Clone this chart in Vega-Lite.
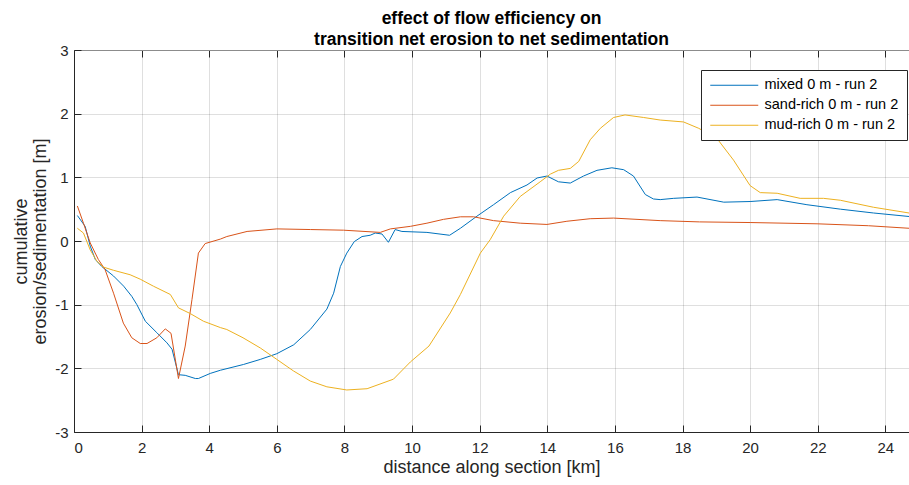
{
  "$schema": "https://vega.github.io/schema/vega-lite/v6.json",
  "width": 835,
  "height": 382,
  "autosize": {"type": "none"},
  "padding": {"left": 74, "top": 50, "right": 0, "bottom": 53},
  "background": "white",
  "title": {
    "text": ["effect of flow efficiency on", "transition net erosion to net sedimentation"],
    "font": "Liberation Sans",
    "fontSize": 17.5,
    "fontWeight": "bold",
    "color": "#000000",
    "anchor": "middle",
    "lineHeight": 21,
    "offset": -5
  },
  "datasets": {
    "profiles": [
      {"x": 0.1, "y": 0.40, "series": "mixed 0 m - run 2"},
      {"x": 0.33, "y": 0.23, "series": "mixed 0 m - run 2"},
      {"x": 0.48, "y": -0.08, "series": "mixed 0 m - run 2"},
      {"x": 0.63, "y": -0.29, "series": "mixed 0 m - run 2"},
      {"x": 0.82, "y": -0.40, "series": "mixed 0 m - run 2"},
      {"x": 1.17, "y": -0.55, "series": "mixed 0 m - run 2"},
      {"x": 1.47, "y": -0.71, "series": "mixed 0 m - run 2"},
      {"x": 1.71, "y": -0.87, "series": "mixed 0 m - run 2"},
      {"x": 1.86, "y": -1.00, "series": "mixed 0 m - run 2"},
      {"x": 2.11, "y": -1.26, "series": "mixed 0 m - run 2"},
      {"x": 2.45, "y": -1.44, "series": "mixed 0 m - run 2"},
      {"x": 2.75, "y": -1.60, "series": "mixed 0 m - run 2"},
      {"x": 2.9, "y": -1.70, "series": "mixed 0 m - run 2"},
      {"x": 3.09, "y": -2.10, "series": "mixed 0 m - run 2"},
      {"x": 3.29, "y": -2.11, "series": "mixed 0 m - run 2"},
      {"x": 3.59, "y": -2.16, "series": "mixed 0 m - run 2"},
      {"x": 3.68, "y": -2.16, "series": "mixed 0 m - run 2"},
      {"x": 4.03, "y": -2.08, "series": "mixed 0 m - run 2"},
      {"x": 4.33, "y": -2.03, "series": "mixed 0 m - run 2"},
      {"x": 5.01, "y": -1.94, "series": "mixed 0 m - run 2"},
      {"x": 5.51, "y": -1.86, "series": "mixed 0 m - run 2"},
      {"x": 6.0, "y": -1.77, "series": "mixed 0 m - run 2"},
      {"x": 6.5, "y": -1.63, "series": "mixed 0 m - run 2"},
      {"x": 6.99, "y": -1.39, "series": "mixed 0 m - run 2"},
      {"x": 7.48, "y": -1.07, "series": "mixed 0 m - run 2"},
      {"x": 7.68, "y": -0.82, "series": "mixed 0 m - run 2"},
      {"x": 7.88, "y": -0.40, "series": "mixed 0 m - run 2"},
      {"x": 8.07, "y": -0.19, "series": "mixed 0 m - run 2"},
      {"x": 8.29, "y": -0.01, "series": "mixed 0 m - run 2"},
      {"x": 8.52, "y": 0.07, "series": "mixed 0 m - run 2"},
      {"x": 8.76, "y": 0.09, "series": "mixed 0 m - run 2"},
      {"x": 8.91, "y": 0.125, "series": "mixed 0 m - run 2"},
      {"x": 9.11, "y": 0.11, "series": "mixed 0 m - run 2"},
      {"x": 9.30, "y": -0.02, "series": "mixed 0 m - run 2"},
      {"x": 9.50, "y": 0.18, "series": "mixed 0 m - run 2"},
      {"x": 9.70, "y": 0.15, "series": "mixed 0 m - run 2"},
      {"x": 10.44, "y": 0.135, "series": "mixed 0 m - run 2"},
      {"x": 11.11, "y": 0.09, "series": "mixed 0 m - run 2"},
      {"x": 11.43, "y": 0.20, "series": "mixed 0 m - run 2"},
      {"x": 11.92, "y": 0.39, "series": "mixed 0 m - run 2"},
      {"x": 12.41, "y": 0.57, "series": "mixed 0 m - run 2"},
      {"x": 12.91, "y": 0.76, "series": "mixed 0 m - run 2"},
      {"x": 13.4, "y": 0.88, "series": "mixed 0 m - run 2"},
      {"x": 13.7, "y": 0.99, "series": "mixed 0 m - run 2"},
      {"x": 13.99, "y": 1.02, "series": "mixed 0 m - run 2"},
      {"x": 14.33, "y": 0.93, "series": "mixed 0 m - run 2"},
      {"x": 14.68, "y": 0.91, "series": "mixed 0 m - run 2"},
      {"x": 15.07, "y": 1.02, "series": "mixed 0 m - run 2"},
      {"x": 15.47, "y": 1.11, "series": "mixed 0 m - run 2"},
      {"x": 15.91, "y": 1.15, "series": "mixed 0 m - run 2"},
      {"x": 16.26, "y": 1.12, "series": "mixed 0 m - run 2"},
      {"x": 16.55, "y": 1.02, "series": "mixed 0 m - run 2"},
      {"x": 16.9, "y": 0.73, "series": "mixed 0 m - run 2"},
      {"x": 17.14, "y": 0.66, "series": "mixed 0 m - run 2"},
      {"x": 17.34, "y": 0.65, "series": "mixed 0 m - run 2"},
      {"x": 17.74, "y": 0.67, "series": "mixed 0 m - run 2"},
      {"x": 18.43, "y": 0.69, "series": "mixed 0 m - run 2"},
      {"x": 19.22, "y": 0.61, "series": "mixed 0 m - run 2"},
      {"x": 20.0, "y": 0.62, "series": "mixed 0 m - run 2"},
      {"x": 20.8, "y": 0.65, "series": "mixed 0 m - run 2"},
      {"x": 21.68, "y": 0.57, "series": "mixed 0 m - run 2"},
      {"x": 22.67, "y": 0.50, "series": "mixed 0 m - run 2"},
      {"x": 23.65, "y": 0.44, "series": "mixed 0 m - run 2"},
      {"x": 24.7, "y": 0.385, "series": "mixed 0 m - run 2"},

      {"x": 0.1, "y": 0.55, "series": "sand-rich 0 m - run 2"},
      {"x": 0.28, "y": 0.28, "series": "sand-rich 0 m - run 2"},
      {"x": 0.48, "y": -0.03, "series": "sand-rich 0 m - run 2"},
      {"x": 0.72, "y": -0.29, "series": "sand-rich 0 m - run 2"},
      {"x": 0.92, "y": -0.45, "series": "sand-rich 0 m - run 2"},
      {"x": 1.17, "y": -0.82, "series": "sand-rich 0 m - run 2"},
      {"x": 1.46, "y": -1.29, "series": "sand-rich 0 m - run 2"},
      {"x": 1.71, "y": -1.52, "series": "sand-rich 0 m - run 2"},
      {"x": 1.96, "y": -1.61, "series": "sand-rich 0 m - run 2"},
      {"x": 2.16, "y": -1.61, "series": "sand-rich 0 m - run 2"},
      {"x": 2.45, "y": -1.52, "series": "sand-rich 0 m - run 2"},
      {"x": 2.7, "y": -1.38, "series": "sand-rich 0 m - run 2"},
      {"x": 2.87, "y": -1.45, "series": "sand-rich 0 m - run 2"},
      {"x": 3.09, "y": -2.16, "series": "sand-rich 0 m - run 2"},
      {"x": 3.29, "y": -1.65, "series": "sand-rich 0 m - run 2"},
      {"x": 3.49, "y": -0.92, "series": "sand-rich 0 m - run 2"},
      {"x": 3.68, "y": -0.19, "series": "sand-rich 0 m - run 2"},
      {"x": 3.88, "y": -0.04, "series": "sand-rich 0 m - run 2"},
      {"x": 4.33, "y": 0.03, "series": "sand-rich 0 m - run 2"},
      {"x": 4.52, "y": 0.07, "series": "sand-rich 0 m - run 2"},
      {"x": 5.12, "y": 0.15, "series": "sand-rich 0 m - run 2"},
      {"x": 6.0, "y": 0.19, "series": "sand-rich 0 m - run 2"},
      {"x": 6.99, "y": 0.18, "series": "sand-rich 0 m - run 2"},
      {"x": 7.97, "y": 0.17, "series": "sand-rich 0 m - run 2"},
      {"x": 9.06, "y": 0.135, "series": "sand-rich 0 m - run 2"},
      {"x": 9.36, "y": 0.19, "series": "sand-rich 0 m - run 2"},
      {"x": 9.95, "y": 0.23, "series": "sand-rich 0 m - run 2"},
      {"x": 10.44, "y": 0.28, "series": "sand-rich 0 m - run 2"},
      {"x": 10.93, "y": 0.34, "series": "sand-rich 0 m - run 2"},
      {"x": 11.43, "y": 0.38, "series": "sand-rich 0 m - run 2"},
      {"x": 11.82, "y": 0.38, "series": "sand-rich 0 m - run 2"},
      {"x": 12.41, "y": 0.32, "series": "sand-rich 0 m - run 2"},
      {"x": 13.2, "y": 0.28, "series": "sand-rich 0 m - run 2"},
      {"x": 13.99, "y": 0.26, "series": "sand-rich 0 m - run 2"},
      {"x": 14.58, "y": 0.31, "series": "sand-rich 0 m - run 2"},
      {"x": 15.27, "y": 0.35, "series": "sand-rich 0 m - run 2"},
      {"x": 15.96, "y": 0.36, "series": "sand-rich 0 m - run 2"},
      {"x": 17.34, "y": 0.32, "series": "sand-rich 0 m - run 2"},
      {"x": 18.5, "y": 0.30, "series": "sand-rich 0 m - run 2"},
      {"x": 20.0, "y": 0.29, "series": "sand-rich 0 m - run 2"},
      {"x": 21.98, "y": 0.27, "series": "sand-rich 0 m - run 2"},
      {"x": 23.5, "y": 0.24, "series": "sand-rich 0 m - run 2"},
      {"x": 24.7, "y": 0.20, "series": "sand-rich 0 m - run 2"},

      {"x": 0.1, "y": 0.20, "series": "mud-rich 0 m - run 2"},
      {"x": 0.28, "y": 0.125, "series": "mud-rich 0 m - run 2"},
      {"x": 0.48, "y": -0.14, "series": "mud-rich 0 m - run 2"},
      {"x": 0.68, "y": -0.32, "series": "mud-rich 0 m - run 2"},
      {"x": 0.87, "y": -0.41, "series": "mud-rich 0 m - run 2"},
      {"x": 1.17, "y": -0.46, "series": "mud-rich 0 m - run 2"},
      {"x": 1.66, "y": -0.53, "series": "mud-rich 0 m - run 2"},
      {"x": 1.96, "y": -0.60, "series": "mud-rich 0 m - run 2"},
      {"x": 2.35, "y": -0.71, "series": "mud-rich 0 m - run 2"},
      {"x": 2.85, "y": -0.84, "series": "mud-rich 0 m - run 2"},
      {"x": 3.09, "y": -1.05, "series": "mud-rich 0 m - run 2"},
      {"x": 3.44, "y": -1.14, "series": "mud-rich 0 m - run 2"},
      {"x": 3.83, "y": -1.26, "series": "mud-rich 0 m - run 2"},
      {"x": 4.33, "y": -1.36, "series": "mud-rich 0 m - run 2"},
      {"x": 4.52, "y": -1.39, "series": "mud-rich 0 m - run 2"},
      {"x": 5.0, "y": -1.52, "series": "mud-rich 0 m - run 2"},
      {"x": 5.51, "y": -1.68, "series": "mud-rich 0 m - run 2"},
      {"x": 6.0, "y": -1.86, "series": "mud-rich 0 m - run 2"},
      {"x": 6.49, "y": -2.04, "series": "mud-rich 0 m - run 2"},
      {"x": 6.99, "y": -2.20, "series": "mud-rich 0 m - run 2"},
      {"x": 7.48, "y": -2.29, "series": "mud-rich 0 m - run 2"},
      {"x": 8.07, "y": -2.34, "series": "mud-rich 0 m - run 2"},
      {"x": 8.67, "y": -2.32, "series": "mud-rich 0 m - run 2"},
      {"x": 9.45, "y": -2.17, "series": "mud-rich 0 m - run 2"},
      {"x": 9.95, "y": -1.90, "series": "mud-rich 0 m - run 2"},
      {"x": 10.5, "y": -1.65, "series": "mud-rich 0 m - run 2"},
      {"x": 11.13, "y": -1.13, "series": "mud-rich 0 m - run 2"},
      {"x": 11.43, "y": -0.84, "series": "mud-rich 0 m - run 2"},
      {"x": 12.02, "y": -0.19, "series": "mud-rich 0 m - run 2"},
      {"x": 12.31, "y": 0.02, "series": "mud-rich 0 m - run 2"},
      {"x": 12.71, "y": 0.39, "series": "mud-rich 0 m - run 2"},
      {"x": 13.2, "y": 0.70, "series": "mud-rich 0 m - run 2"},
      {"x": 13.79, "y": 0.93, "series": "mud-rich 0 m - run 2"},
      {"x": 14.09, "y": 1.05, "series": "mud-rich 0 m - run 2"},
      {"x": 14.33, "y": 1.11, "series": "mud-rich 0 m - run 2"},
      {"x": 14.68, "y": 1.14, "series": "mud-rich 0 m - run 2"},
      {"x": 14.93, "y": 1.25, "series": "mud-rich 0 m - run 2"},
      {"x": 15.27, "y": 1.59, "series": "mud-rich 0 m - run 2"},
      {"x": 15.57, "y": 1.77, "series": "mud-rich 0 m - run 2"},
      {"x": 15.96, "y": 1.94, "series": "mud-rich 0 m - run 2"},
      {"x": 16.3, "y": 1.98, "series": "mud-rich 0 m - run 2"},
      {"x": 16.85, "y": 1.94, "series": "mud-rich 0 m - run 2"},
      {"x": 17.34, "y": 1.90, "series": "mud-rich 0 m - run 2"},
      {"x": 18.03, "y": 1.87, "series": "mud-rich 0 m - run 2"},
      {"x": 18.48, "y": 1.77, "series": "mud-rich 0 m - run 2"},
      {"x": 19.02, "y": 1.61, "series": "mud-rich 0 m - run 2"},
      {"x": 19.51, "y": 1.27, "series": "mud-rich 0 m - run 2"},
      {"x": 20.0, "y": 0.87, "series": "mud-rich 0 m - run 2"},
      {"x": 20.3, "y": 0.76, "series": "mud-rich 0 m - run 2"},
      {"x": 20.8, "y": 0.75, "series": "mud-rich 0 m - run 2"},
      {"x": 21.48, "y": 0.67, "series": "mud-rich 0 m - run 2"},
      {"x": 22.17, "y": 0.67, "series": "mud-rich 0 m - run 2"},
      {"x": 22.67, "y": 0.64, "series": "mud-rich 0 m - run 2"},
      {"x": 23.65, "y": 0.53, "series": "mud-rich 0 m - run 2"},
      {"x": 24.7, "y": 0.44, "series": "mud-rich 0 m - run 2"}
    ]
  },
  "data": {"name": "profiles"},
  "config": {
    "view": {"stroke": null},
    "axis": {
      "domainColor": "#262626",
      "domainWidth": 1,
      "tickColor": "#262626",
      "tickSize": -7,
      "gridColor": "#262626",
      "gridOpacity": 0.15,
      "labelFont": "Liberation Sans",
      "labelFontSize": 15,
      "labelColor": "#262626",
      "titleFont": "Liberation Sans",
      "titleFontSize": 18,
      "titleFontWeight": "normal",
      "titleColor": "#262626"
    }
  },
  "layer": [
    {
      "mark": {"type": "line", "strokeWidth": 1, "clip": true},
      "encoding": {
        "x": {
          "field": "x",
          "type": "quantitative",
          "scale": {"domain": [0, 24.7], "nice": false, "zero": false},
          "axis": {
            "orient": "bottom",
            "values": [0, 2, 4, 6, 8, 10, 12, 14, 16, 18, 20, 22, 24],
            "title": "distance along section [km]",
            "labelPadding": 15,
            "titlePadding": 3
          }
        },
        "y": {
          "field": "y",
          "type": "quantitative",
          "scale": {"domain": [-3, 3], "nice": false},
          "axis": {
            "values": [-3, -2, -1, 0, 1, 2, 3],
            "labelExpr": "datum.value < 0 ? '-' + abs(datum.value) : '' + datum.value",
            "title": ["cumulative", "erosion/sedimentation [m]"],
            "labelPadding": 13,
            "titlePadding": 5,
            "titleLineHeight": 19
          }
        },
        "color": {
          "field": "series",
          "type": "nominal",
          "scale": {
            "domain": ["mixed 0 m - run 2", "sand-rich 0 m - run 2", "mud-rich 0 m - run 2"],
            "range": ["#0072BD", "#D95319", "#EDB120"]
          },
          "legend": {
            "title": null,
            "orient": "none",
            "legendX": 627,
            "legendY": 20,
            "symbolType": "M-3,0H21",
            "symbolSize": 16,
            "symbolStrokeWidth": 1,
            "labelOffset": 41,
            "labelFont": "Liberation Sans",
            "labelFontSize": 14.5,
            "labelColor": "#000000",
            "rowPadding": 5,
            "padding": 8,
            "strokeColor": "#262626",
            "fillColor": "#ffffff",
            "cornerRadius": 0
          }
        }
      }
    },
    {
      "mark": {"type": "rule", "strokeOpacity": 0},
      "encoding": {
        "x": {
          "field": "x",
          "type": "quantitative",
          "axis": {
            "orient": "top",
            "values": [0, 2, 4, 6, 8, 10, 12, 14, 16, 18, 20, 22, 24],
            "labels": false,
            "grid": false,
            "title": null,
            "domainColor": "#8c8c8c"
          }
        }
      }
    }
  ],
  "resolve": {"axis": {"x": "independent"}}
}
